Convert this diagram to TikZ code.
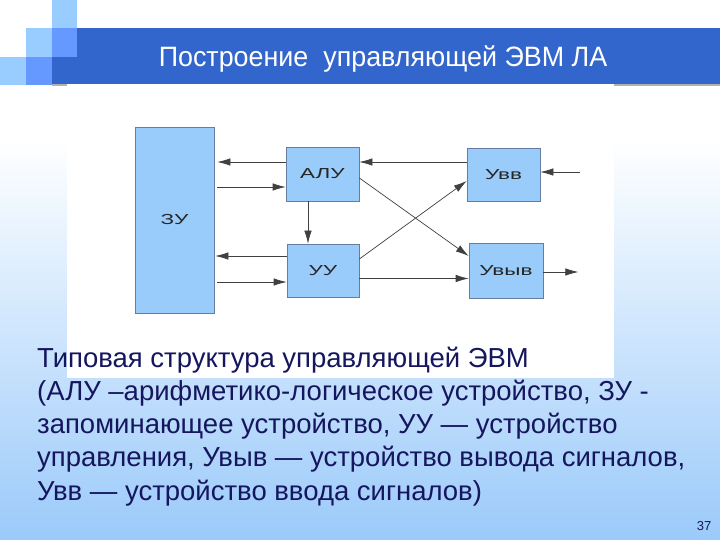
\documentclass[tikz,border=0pt]{standalone}
\usepackage{fontspec}
\setmainfont{Liberation Sans}
\newfontfamily\diagfont[FakeStretch=1.55]{Liberation Sans}
\newfontfamily\titlefont[FakeStretch=0.96]{Liberation Sans}
\usetikzlibrary{arrows.meta}
\definecolor{barblue}{RGB}{51,102,204}
\definecolor{sqlight}{RGB}{153,204,255}
\definecolor{sqmid}{RGB}{102,153,255}
\definecolor{boxfill}{RGB}{153,204,250}
\definecolor{boxline}{RGB}{100,125,160}
\definecolor{navy}{RGB}{22,22,95}
\definecolor{bgblue}{RGB}{155,202,250}
\tikzset{
  unit/.style={draw=boxline, line width=0.7pt, fill=boxfill, inner sep=0pt,
    font=\diagfont\fontsize{14.5}{14.5}\selectfont, text=black!85},
  arr/.style={draw=black!75, line width=0.7pt, -{Latex[length=13pt,width=7.5pt]}}
}
\begin{document}
\begin{tikzpicture}[x=1pt,y=-1pt]
\useasboundingbox (0,0) rectangle (720,540);
% background
\fill[white] (0,0) rectangle (720,140);
\shade[top color=white, bottom color=bgblue] (0,140) rectangle (720,540);
% title bar shadow and bar
\fill[black!30] (52,84) rectangle (720,86);
\fill[barblue] (52,28) rectangle (720,84);
% decorative squares
\fill[sqlight] (52,0) rectangle (77,28);
\fill[sqlight] (26,28) rectangle (52,57);
\fill[sqmid] (52,28) rectangle (77,57);
\fill[sqlight] (0,57) rectangle (26,85);
\fill[sqmid] (26,57) rectangle (52,85);
\node[text=white, font=\titlefont\fontsize{28}{28}\selectfont] (title) at (383,59) {Построение\ \ управляющей ЭВМ ЛА};
% white picture area
\fill[white] (67,84) rectangle (614,378);
% units
\node[unit, minimum width=79pt, minimum height=186pt] (zu) at (174.5,220) {ЗУ};
\node[unit, minimum width=73pt, minimum height=54pt] (alu) at (322.5,174) {АЛУ};
\node[unit, minimum width=72pt, minimum height=53pt] (uu) at (323,270.5) {УУ};
\node[unit, minimum width=73pt, minimum height=53pt] (uvv) at (503.5,174.5) {Увв};
\node[unit, minimum width=74pt, minimum height=55pt] (uvyv) at (506,270.5) {Увыв};
% connectors
\coordinate (a1) at ([yshift=12pt]alu.west);
\draw[arr] (a1) -- ([xshift=3pt]a1 -| zu.east);
\coordinate (a2) at ([yshift=-13pt]alu.west);
\draw[arr] ([xshift=3pt]a2 -| zu.east) -- (a2);
\coordinate (a3) at ([yshift=14.5pt]uu.west);
\draw[arr] (a3) -- ([xshift=1pt]a3 -| zu.east);
\coordinate (a4) at ([yshift=-11.5pt]uu.west);
\draw[arr] ([xshift=3pt]a4 -| zu.east) -- (a4);
\coordinate (a5) at ([xshift=-14.5pt]alu.south);
\draw[arr] (a5) -- (a5 |- uu.north);
\coordinate (a6) at ([yshift=12.5pt]uvv.west);
\draw[arr] (a6) -- (a6 -| alu.east);
\coordinate (inp) at ([yshift=2.5pt, xshift=40pt]uvv.east);
\draw[arr] (inp) -- (inp -| uvv.east);
\coordinate (a8) at ([yshift=-1.5pt]uvyv.east);
\coordinate (outp) at ([xshift=35pt]a8);
\draw[arr] (a8) -- (outp);
\coordinate (a9) at ([yshift=-8pt]uu.east);
\draw[arr] (a9) -- (a9 -| uvyv.west);
\draw[arr] ([yshift=-4pt]alu.east) -- ([yshift=14.5pt]uvyv.west);
\draw[arr] ([yshift=11.5pt]uu.east) -- ([yshift=-6.5pt]uvv.west);
% caption
\node[anchor=base west, align=left, inner sep=0pt, text=navy,
  font=\fontsize{27.5}{33.2}\selectfont] (cap) at (37,500)
  {Типовая структура управляющей ЭВМ\\
   (АЛУ –арифметико-логическое устройство, ЗУ -\\
   запоминающее устройство, УУ — устройство\\
   управления, Увыв — устройство вывода сигналов,\\
   Увв — устройство ввода сигналов)};
\node[text=navy, font=\fontsize{13}{13}\selectfont] (pg) at (704,526) {37};
\end{tikzpicture}
\end{document}
